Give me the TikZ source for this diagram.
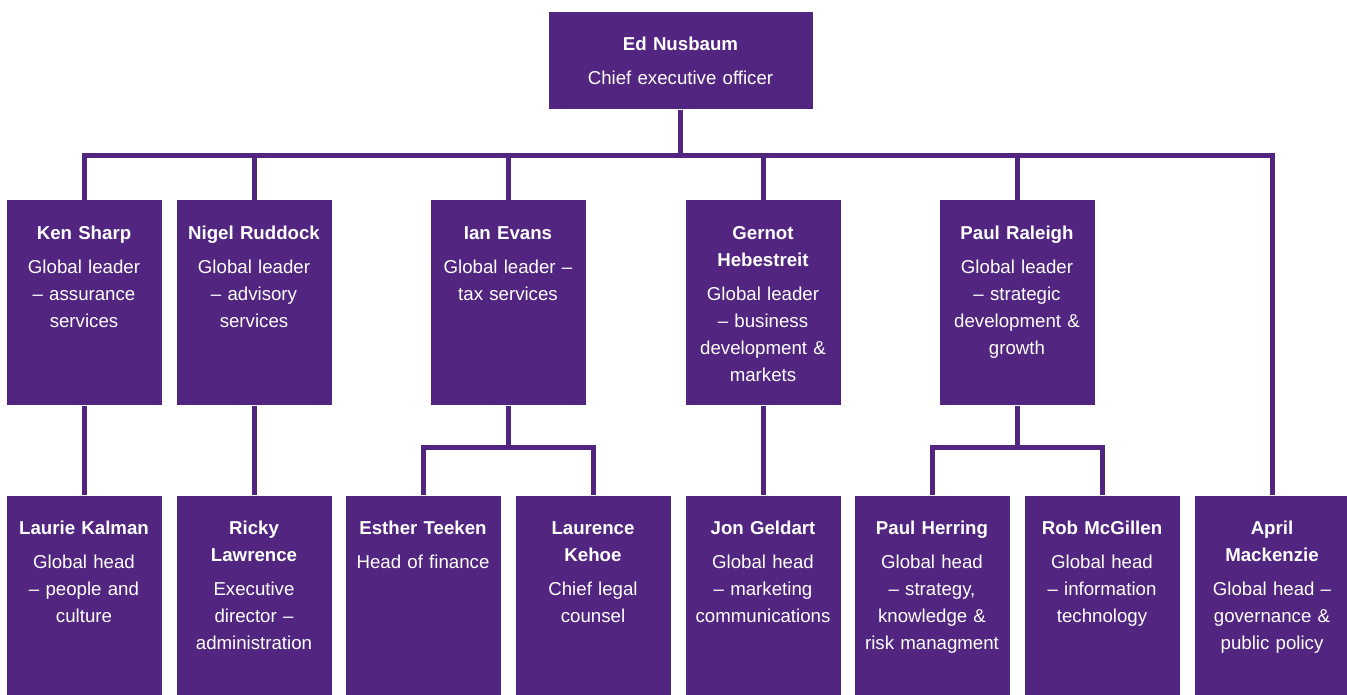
\documentclass[tikz,border=0pt]{standalone}
\usepackage{fontspec}
\setmainfont{Liberation Sans}

\definecolor{kpurple}{RGB}{82,38,128}
\tikzset{every picture/.style={line width=0.75pt}}
\tikzset{
  card/.style={fill=kpurple, text=white, inner sep=0pt, anchor=north west,
    text width=116.25pt, align=center, text height=29.25pt, text depth=124.5pt,
    font=\fontsize{14}{20.25}\selectfont},
  lowcard/.style={card, text depth=120.75pt},
  topcard/.style={card, text width=198pt, text height=28.5pt, text depth=44.25pt},
  link/.style={draw=kpurple, line width=3.75pt},
}
\newcommand{\who}[2]{{\bfseries #1}\\[5.25pt]#2}

\begin{document}
\begin{tikzpicture}[x=0.75pt,y=0.75pt,yscale=-1,xscale=1]
\useasboundingbox (0,0) rectangle (1347,695);

% Top
\node [topcard] (ceo) at (548,12) {\who{Ed Nusbaum}{Chief executive officer}};

% Global leaders
\node [card] (ken) at (6,200) {\who{Ken Sharp}{Global leader\\– assurance\\services}};
\node [card] (nigel) at (176,200) {\who{Nigel Ruddock}{Global leader\\– advisory\\services}};
\node [card] (ian) at (430,200) {\who{Ian Evans}{Global leader –\\tax services}};
\node [card] (gernot) at (685,200) {\who{Gernot\\Hebestreit}{Global leader\\– business\\development \&\\markets}};
\node [card] (raleigh) at (939,200) {\who{Paul Raleigh}{Global leader\\– strategic\\development \&\\growth}};

% Global heads
\node [lowcard] (laurie) at (6,495) {\who{Laurie Kalman}{Global head\\– people and\\culture}};
\node [lowcard] (ricky) at (176,495) {\who{Ricky\\Lawrence}{Executive\\director –\\administration}};
\node [lowcard] (esther) at (345,495) {\who{Esther Teeken}{Head of finance}};
\node [lowcard] (laurence) at (515,495) {\who{Laurence\\Kehoe}{Chief legal\\counsel}};
\node [lowcard] (jon) at (685,495) {\who{Jon Geldart}{Global head\\– marketing\\communications}};
\node [lowcard] (herring) at (854,495) {\who{Paul Herring}{Global head\\– strategy,\\knowledge \&\\risk managment}};
\node [lowcard] (mcgillen) at (1024,495) {\who{Rob McGillen}{Global head\\– information\\technology}};
\node [lowcard] (april) at (1194,495) {\who{April\\Mackenzie}{Global head –\\governance \&\\public policy}};

% Links
\foreach \n in {ken,nigel,ian,gernot,raleigh,april}
  \draw [link] (ceo.south) -- ++(0,46) -| (\n.north);
\draw [link] (ken.south) -- (laurie.north);
\draw [link] (nigel.south) -- (ricky.north);
\draw [link] (gernot.south) -- (jon.north);
\foreach \n in {esther,laurence}
  \draw [link] (ian.south) -- ++(0,42) -| (\n.north);
\foreach \n in {herring,mcgillen}
  \draw [link] (raleigh.south) -- ++(0,42) -| (\n.north);

\end{tikzpicture}
\end{document}
